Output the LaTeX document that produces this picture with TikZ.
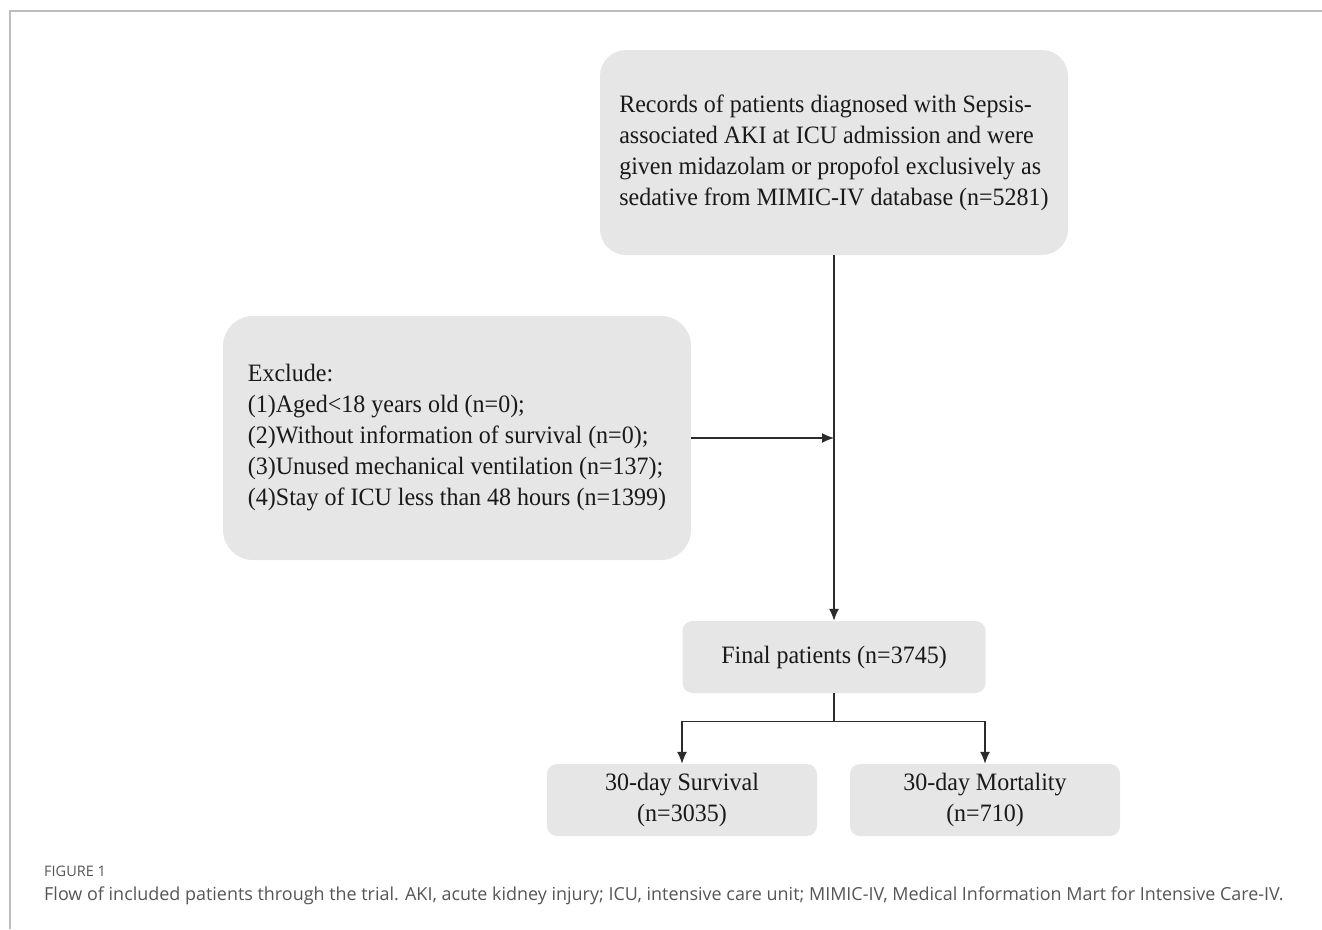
\documentclass[tikz,border=0pt]{standalone}
\usepackage{fontspec}
\setmainfont[FakeStretch=0.96]{Liberation Serif}
\newfontfamily\capfont{Open Sans}
\usetikzlibrary{positioning,calc,arrows.meta}
\definecolor{boxgray}{HTML}{E6E6E6}
\definecolor{linegray}{HTML}{2B2B2B}
\definecolor{framegray}{HTML}{BDBDBD}
\definecolor{capgray}{HTML}{555555}
\tikzstyle{box}=[fill=boxgray,draw=none,shape=rectangle,inner sep=0pt,font=\fontsize{25}{31}\selectfont,text=black!90]
\tikzstyle{arrow}=[draw=linegray,line width=1.4pt,-{Latex[length=12pt,width=10pt]}]
\tikzstyle{line}=[draw=linegray,line width=1.4pt]

\begin{document}
\begin{tikzpicture}[x=1pt,y=-1pt]
	\useasboundingbox (0,0) rectangle (1322,929);
	\draw[framegray,line width=2pt] (9.5,929) -- (9.5,10.5) -- (1322,10.5);
	\node[box,rounded corners=26pt,minimum width=468pt,minimum height=205pt,align=left]
		(records) at (834,152.5) {Records of patients diagnosed with Sepsis-\\associated AKI at ICU admission and were\\given midazolam or propofol exclusively as\\sedative from MIMIC-IV database (n=5281)};
	\node[box,rounded corners=30pt,minimum width=468pt,minimum height=244pt,align=left]
		(exclude) at (457,438) {Exclude:\\(1)Aged<18 years old (n=0);\\(2)Without information of survival (n=0);\\(3)Unused mechanical ventilation (n=137);\\(4)Stay of ICU less than 48 hours (n=1399)};
	\node[box,rounded corners=10pt,minimum width=303pt,minimum height=72pt]
		(final) at (834,657) {Final patients (n=3745)};
	\node[box,rounded corners=10pt,minimum width=270pt,minimum height=72pt,align=center]
		(survival) at (682,800) {30-day Survival\\(n=3035)};
	\node[box,rounded corners=10pt,minimum width=270pt,minimum height=72pt,align=center]
		(mortality) at (985,800) {30-day Mortality\\(n=710)};
	\coordinate (join) at (exclude.east -| records.south);
	\coordinate (split) at ($(final.south)+(0,28)$);
	\draw[arrow] (records.south) -- (final.north);
	\draw[arrow] (exclude.east) -- (join);
	\draw[line] (final.south) -- (split);
	\draw[arrow] (split) -| (survival.north);
	\draw[arrow] (split) -| (mortality.north);
	\node[anchor=base west,inner sep=0pt,text=capgray,font=\capfont\fontsize{14.5}{16}\selectfont]
		(figlabel) at (44,876) {FIGURE 1};
	\node[anchor=base west,inner sep=0pt,text=capgray,font=\capfont\fontsize{17.95}{22}\selectfont]
		(caption) at (44,900) {Flow of included patients through the trial. AKI, acute kidney injury; ICU, intensive care unit; MIMIC-IV, Medical Information Mart for Intensive Care-IV.};
\end{tikzpicture}
\end{document}
